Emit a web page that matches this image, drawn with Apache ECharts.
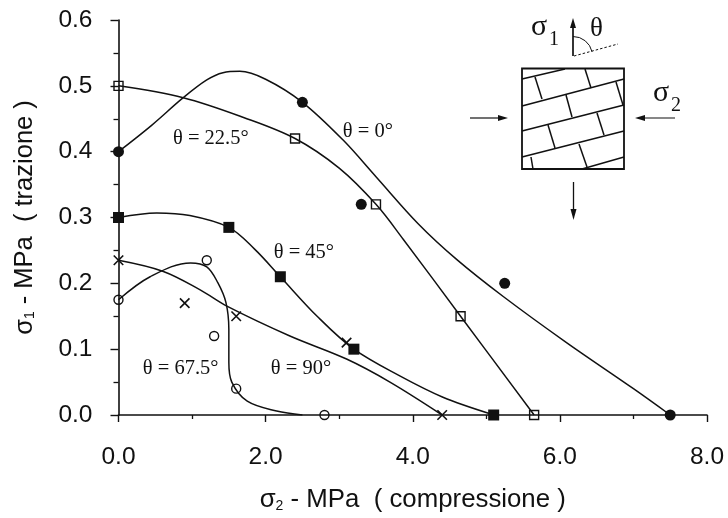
<!DOCTYPE html>
<html><head><meta charset="utf-8">
<style>html,body{margin:0;padding:0;background:#fff}#c{width:728px;height:518px}</style>
<script src="https://cdn.jsdelivr.net/npm/echarts@6/dist/echarts.min.js"></script>
</head><body><div id="c"></div>
<script>
// markers [sigma2, sigma1]
const pts0   = [[0,0.4],[2.5,0.475],[3.3,0.32],[5.25,0.2],[7.5,0]];
const pts225 = [[0,0.5],[2.4,0.42],[3.5,0.32],[4.65,0.15],[5.65,0]];
const pts45  = [[0,0.3],[1.5,0.285],[2.2,0.21],[3.2,0.1],[5.1,0]];
const pts675 = [[0,0.175],[1.2,0.235],[1.3,0.12],[1.6,0.04],[2.8,0]];
const pts90  = [[0,0.235],[0.9,0.17],[1.6,0.15],[3.1,0.11],[4.4,0]];
// fitted curves
const curve0   = [[0,0.4],[0.45,0.44],[0.88,0.482],[1.2,0.509],[1.42,0.52],[1.65,0.522],[2.0,0.51],[2.5,0.475],[3.05,0.418],[3.5,0.362],[4.07,0.291],[4.6,0.236],[5.23,0.18],[6.09,0.11],[7.0,0.04],[7.5,0]];
const curve225 = [[0,0.5],[0.88,0.482],[1.7,0.452],[2.4,0.42],[3.0,0.375],[3.5,0.32],[3.87,0.267],[4.65,0.15],[5.65,0]];
const curve45  = [[0,0.3],[0.52,0.307],[0.97,0.303],[1.5,0.285],[1.85,0.252],[2.2,0.21],[2.7,0.15],[3.2,0.1],[3.83,0.059],[4.41,0.027],[5.05,0.002]];
const curve675 = [[0,0.175],[0.43,0.21],[0.98,0.231],[1.2,0.225],[1.35,0.201],[1.46,0.171],[1.5,0.13],[1.5,0.08],[1.54,0.05],[1.75,0.021],[2.15,0.006],[2.5,0]];
const curve90  = [[0,0.235],[0.61,0.218],[1.11,0.19],[1.48,0.165],[2.33,0.12],[3.1,0.085],[3.69,0.05],[4.4,0]];
const xTicks = {0:'0.0',2:'2.0',4:'4.0',6:'6.0',8:'8.0'};
const serif = '"Liberation Serif"';
const sans = '"Liberation Sans"';
const labels = [
  {text:'θ = 0°', at:[3.05,0.43]},
  {text:'θ = 22.5°', at:[0.74,0.42]},
  {text:'θ = 45°', at:[2.11,0.247]},
  {text:'θ = 67.5°', at:[0.33,0.071]},
  {text:'θ = 90°', at:[2.07,0.071]}
];
const black='#111';
function curve(d){return {type:'line',data:d,smooth:0.35,showSymbol:false,symbol:'none',silent:true,lineStyle:{color:black,width:1.5},z:2};}
function marks(d,sym,size,filled){return {type:'scatter',data:d,symbol:sym,symbolSize:size,silent:true,z:3,
  itemStyle:filled?{color:black,borderColor:black,borderWidth:0,opacity:1}:{color:'rgba(255,255,255,0)',borderColor:black,borderWidth:1.4,opacity:1}};}
const xPath='path://M0 0L10 10M10 0L0 10';
const chart=echarts.init(document.getElementById('c'),null,{renderer:'canvas'});
const L=(a,b,c,d,w)=>({type:'line',shape:{x1:a,y1:b,x2:c,y2:d},style:{stroke:black,lineWidth:w||1.5}});
const tri=(pts)=>({type:'polygon',shape:{points:pts},style:{fill:black}});
const insetText=(t,x,y,fs,fam)=>({type:'text',x,y,style:{text:t,font:fs+'px '+(fam||serif),fill:black}});
const rich=(fs)=>({s:{fontFamily:sans,fontSize:fs,color:black},sub:{fontFamily:sans,fontSize:14,color:black,verticalAlign:'bottom',padding:[8,0,0,0]}});
chart.setOption({
  animation:false,backgroundColor:'#fff',
  grid:{left:118.5,right:21,top:20,bottom:102,containLabel:false},
  xAxis:{type:'value',min:0,max:8,interval:2,
    axisLine:{onZero:false,lineStyle:{color:black,width:1.6}},
    axisTick:{length:7,lineStyle:{color:black,width:1.4}},
    minorTick:{show:true,splitNumber:2,length:4,lineStyle:{color:black,width:1.3}},splitLine:{show:false},minorSplitLine:{show:false},
    axisLabel:{color:black,fontFamily:sans,fontSize:24.5,margin:30,showMaxLabel:true,hideOverlap:false,formatter:v=>xTicks[v]||''},
    name:'{s|σ}{sub|2}{s| - MPa  ( compressione )}',nameLocation:'middle',nameGap:72,
    nameTextStyle:{rich:rich(25.8)}
  },
  yAxis:{type:'value',min:0,max:0.6,interval:0.1,
    axisLine:{onZero:false,lineStyle:{color:black,width:1.6}},
    axisTick:{length:8,lineStyle:{color:black,width:1.4}},
    minorTick:{show:true,splitNumber:2,length:5,lineStyle:{color:black,width:1.3}},splitLine:{show:false},minorSplitLine:{show:false},
    axisLabel:{color:black,fontFamily:sans,fontSize:24.5,margin:26,formatter:v=>v.toFixed(1)},
    name:'{s|σ}{sub|1}{s| - MPa  ( trazione )}',nameLocation:'middle',nameGap:81,nameRotate:90,
    nameTextStyle:{rich:rich(25.5)}
  },
  series:[
    curve(curve0),curve(curve225),curve(curve45),curve(curve675),curve(curve90),
    marks(pts0,'circle',11,true),
    marks(pts225,'rect',9,false),
    marks(pts45,'rect',11,true),
    marks(pts675,'circle',9,false),
    {type:'scatter',data:pts90,symbol:xPath,symbolSize:9.5,silent:true,z:3,itemStyle:{color:'none',borderColor:black,borderWidth:1.6,opacity:1}},
    {type:'scatter',data:labels.map(l=>({value:l.at,label:{show:true,formatter:l.text}})),symbolSize:0,silent:true,z:4,itemStyle:{opacity:1},
      label:{show:true,position:'right',distance:0,fontFamily:serif,fontSize:20.5,color:black}}
  ],
  graphic:{type:'group',silent:true,children:[
    // specimen
    {type:'rect',shape:{x:522,y:68.5,width:102,height:100.5},style:{fill:'none',stroke:black,lineWidth:1.8}},
    L(522,79,565,69),L(522,106,624,79),L(522,131,624,105),L(522,157,624,131),L(582,169,624,157),
    L(535,77,542,99),L(585,69,591,88),L(566,95,572,117),L(616,82,623,105),L(548,125,555,148),L(597,113,604,135),L(531,157,533,169),L(579,144,587,167),
    // sigma1 arrow
    L(573,56,573,28,1.7),tri([[570,28],[576,28],[573,18]]),
    {type:'line',shape:{x1:574,y1:56,x2:618,y2:44},style:{stroke:black,lineWidth:1,lineDash:[2.5,2]}},
    {type:'arc',shape:{cx:573,cy:56,r:19.5,startAngle:-Math.PI/2,endAngle:-0.22,clockwise:true},style:{fill:'none',stroke:black,lineWidth:1}},
    // bottom arrow
    L(573.5,182,573.5,212,1.3),tri([[570.5,209],[576.5,209],[573.5,220]]),
    // left arrow
    L(470,118,500,118,1.2),tri([[498,115],[498,121],[508,118]]),
    // right arrow
    L(642,118,675,118,1.2),tri([[645,115],[645,121],[635,118]]),
    insetText('σ',531,12,30),insetText('1',549,30,20),insetText('θ',590,15,27),
    insetText('σ',653,78,30),insetText('2',671,96,20)
  ]}
});
</script></body></html>
